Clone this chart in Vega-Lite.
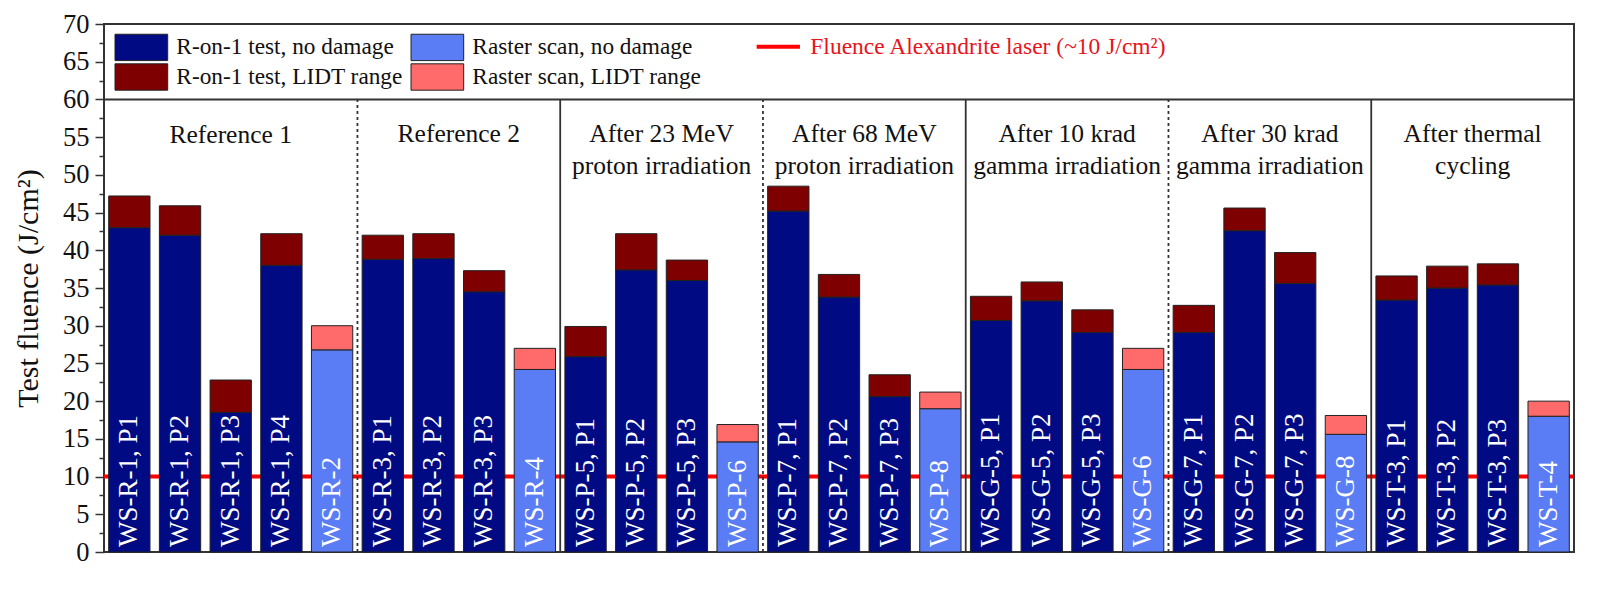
{
  "$schema": "https://vega.github.io/schema/vega-lite/v6.json",
  "width": 1470,
  "height": 528,
  "autosize": {"type": "none"},
  "padding": {"left": 104, "top": 24, "right": 26, "bottom": 40},
  "background": "white",
  "datasets": {
    "bars": [
      {"s": "WS-R-1, P1", "k": "R-on-1 test, no damage", "lo": 0, "hi": 43.0},
      {"s": "WS-R-1, P1", "k": "R-on-1 test, LIDT range", "lo": 43.0, "hi": 47.2},
      {"s": "WS-R-1, P2", "k": "R-on-1 test, no damage", "lo": 0, "hi": 42.0},
      {"s": "WS-R-1, P2", "k": "R-on-1 test, LIDT range", "lo": 42.0, "hi": 45.9},
      {"s": "WS-R-1, P3", "k": "R-on-1 test, no damage", "lo": 0, "hi": 18.5},
      {"s": "WS-R-1, P3", "k": "R-on-1 test, LIDT range", "lo": 18.5, "hi": 22.8},
      {"s": "WS-R-1, P4", "k": "R-on-1 test, no damage", "lo": 0, "hi": 38.0},
      {"s": "WS-R-1, P4", "k": "R-on-1 test, LIDT range", "lo": 38.0, "hi": 42.2},
      {"s": "WS-R-2", "k": "Raster scan, no damage", "lo": 0, "hi": 26.8},
      {"s": "WS-R-2", "k": "Raster scan, LIDT range", "lo": 26.8, "hi": 30.0},
      {"s": "WS-R-3, P1", "k": "R-on-1 test, no damage", "lo": 0, "hi": 38.8},
      {"s": "WS-R-3, P1", "k": "R-on-1 test, LIDT range", "lo": 38.8, "hi": 42.0},
      {"s": "WS-R-3, P2", "k": "R-on-1 test, no damage", "lo": 0, "hi": 38.9},
      {"s": "WS-R-3, P2", "k": "R-on-1 test, LIDT range", "lo": 38.9, "hi": 42.2},
      {"s": "WS-R-3, P3", "k": "R-on-1 test, no damage", "lo": 0, "hi": 34.5},
      {"s": "WS-R-3, P3", "k": "R-on-1 test, LIDT range", "lo": 34.5, "hi": 37.3},
      {"s": "WS-R-4", "k": "Raster scan, no damage", "lo": 0, "hi": 24.2},
      {"s": "WS-R-4", "k": "Raster scan, LIDT range", "lo": 24.2, "hi": 27.0},
      {"s": "WS-P-5, P1", "k": "R-on-1 test, no damage", "lo": 0, "hi": 25.9},
      {"s": "WS-P-5, P1", "k": "R-on-1 test, LIDT range", "lo": 25.9, "hi": 29.9},
      {"s": "WS-P-5, P2", "k": "R-on-1 test, no damage", "lo": 0, "hi": 37.4},
      {"s": "WS-P-5, P2", "k": "R-on-1 test, LIDT range", "lo": 37.4, "hi": 42.2},
      {"s": "WS-P-5, P3", "k": "R-on-1 test, no damage", "lo": 0, "hi": 36.0},
      {"s": "WS-P-5, P3", "k": "R-on-1 test, LIDT range", "lo": 36.0, "hi": 38.7},
      {"s": "WS-P-6", "k": "Raster scan, no damage", "lo": 0, "hi": 14.6},
      {"s": "WS-P-6", "k": "Raster scan, LIDT range", "lo": 14.6, "hi": 16.9},
      {"s": "WS-P-7, P1", "k": "R-on-1 test, no damage", "lo": 0, "hi": 45.2},
      {"s": "WS-P-7, P1", "k": "R-on-1 test, LIDT range", "lo": 45.2, "hi": 48.5},
      {"s": "WS-P-7, P2", "k": "R-on-1 test, no damage", "lo": 0, "hi": 33.8},
      {"s": "WS-P-7, P2", "k": "R-on-1 test, LIDT range", "lo": 33.8, "hi": 36.8},
      {"s": "WS-P-7, P3", "k": "R-on-1 test, no damage", "lo": 0, "hi": 20.6},
      {"s": "WS-P-7, P3", "k": "R-on-1 test, LIDT range", "lo": 20.6, "hi": 23.5},
      {"s": "WS-P-8", "k": "Raster scan, no damage", "lo": 0, "hi": 19.0},
      {"s": "WS-P-8", "k": "Raster scan, LIDT range", "lo": 19.0, "hi": 21.2},
      {"s": "WS-G-5, P1", "k": "R-on-1 test, no damage", "lo": 0, "hi": 30.7},
      {"s": "WS-G-5, P1", "k": "R-on-1 test, LIDT range", "lo": 30.7, "hi": 33.9},
      {"s": "WS-G-5, P2", "k": "R-on-1 test, no damage", "lo": 0, "hi": 33.3},
      {"s": "WS-G-5, P2", "k": "R-on-1 test, LIDT range", "lo": 33.3, "hi": 35.8},
      {"s": "WS-G-5, P3", "k": "R-on-1 test, no damage", "lo": 0, "hi": 29.1},
      {"s": "WS-G-5, P3", "k": "R-on-1 test, LIDT range", "lo": 29.1, "hi": 32.1},
      {"s": "WS-G-6", "k": "Raster scan, no damage", "lo": 0, "hi": 24.2},
      {"s": "WS-G-6", "k": "Raster scan, LIDT range", "lo": 24.2, "hi": 27.0},
      {"s": "WS-G-7, P1", "k": "R-on-1 test, no damage", "lo": 0, "hi": 29.1},
      {"s": "WS-G-7, P1", "k": "R-on-1 test, LIDT range", "lo": 29.1, "hi": 32.7},
      {"s": "WS-G-7, P2", "k": "R-on-1 test, no damage", "lo": 0, "hi": 42.6},
      {"s": "WS-G-7, P2", "k": "R-on-1 test, LIDT range", "lo": 42.6, "hi": 45.6},
      {"s": "WS-G-7, P3", "k": "R-on-1 test, no damage", "lo": 0, "hi": 35.6},
      {"s": "WS-G-7, P3", "k": "R-on-1 test, LIDT range", "lo": 35.6, "hi": 39.7},
      {"s": "WS-G-8", "k": "Raster scan, no damage", "lo": 0, "hi": 15.6},
      {"s": "WS-G-8", "k": "Raster scan, LIDT range", "lo": 15.6, "hi": 18.1},
      {"s": "WS-T-3, P1", "k": "R-on-1 test, no damage", "lo": 0, "hi": 33.4},
      {"s": "WS-T-3, P1", "k": "R-on-1 test, LIDT range", "lo": 33.4, "hi": 36.6},
      {"s": "WS-T-3, P2", "k": "R-on-1 test, no damage", "lo": 0, "hi": 35.0},
      {"s": "WS-T-3, P2", "k": "R-on-1 test, LIDT range", "lo": 35.0, "hi": 37.9},
      {"s": "WS-T-3, P3", "k": "R-on-1 test, no damage", "lo": 0, "hi": 35.4},
      {"s": "WS-T-3, P3", "k": "R-on-1 test, LIDT range", "lo": 35.4, "hi": 38.2},
      {"s": "WS-T-4", "k": "Raster scan, no damage", "lo": 0, "hi": 18.0},
      {"s": "WS-T-4", "k": "Raster scan, LIDT range", "lo": 18.0, "hi": 20.0}
    ],
    "groups": [
      {"g1": "Reference 1", "g2": "", "at": "WS-R-1, P3", "n": 5},
      {"g1": "Reference 2", "g2": "", "at": "WS-R-3, P3", "n": 4},
      {"g1": "After 23 MeV", "g2": "proton irradiation", "at": "WS-P-5, P3", "n": 4},
      {"g1": "After 68 MeV", "g2": "proton irradiation", "at": "WS-P-7, P3", "n": 4},
      {"g1": "After 10 krad", "g2": "gamma irradiation", "at": "WS-G-5, P3", "n": 4},
      {"g1": "After 30 krad", "g2": "gamma irradiation", "at": "WS-G-7, P3", "n": 4},
      {"g1": "After thermal", "g2": "cycling", "at": "WS-T-3, P3", "n": 4}
    ],
    "seps": [
      {"at": "WS-R-3, P1", "st": "dashed"},
      {"at": "WS-P-5, P1", "st": "solid"},
      {"at": "WS-P-7, P1", "st": "dashed"},
      {"at": "WS-G-5, P1", "st": "solid"},
      {"at": "WS-G-7, P1", "st": "dashed"},
      {"at": "WS-T-3, P1", "st": "solid"}
    ]
  },
  "resolve": {"axis": {"y": "independent"}},
  "layer": [
    {
      "data": {"values": [{}]},
      "mark": {"type": "rule", "strokeWidth": 4},
      "encoding": {
        "y": {
          "datum": 10, "type": "quantitative",
          "scale": {"domain": [0, 70], "nice": false},
          "axis": {
            "orient": "left",
            "title": "Test fluence (J/cm²)",
            "titleFont": "Liberation Serif", "titleFontSize": 30, "titleFontWeight": "normal", "titleColor": "#111",
            "titleX": -61, "titleY": 264,
            "values": [0, 5, 10, 15, 20, 25, 30, 35, 40, 45, 50, 55, 60, 65, 70],
            "labelOverlap": false, "labelFlush": false,
            "labelFont": "Liberation Serif", "labelFontSize": 26.5, "labelColor": "#111", "labelPadding": 6,
            "tickColor": "#333", "tickWidth": 1.5, "tickSize": 9,
            "domain": false, "grid": false
          }
        },
        "stroke": {
          "datum": "Fluence Alexandrite laser (~10 J/cm²)",
          "type": "nominal",
          "scale": {"range": ["#ff0000"]},
          "legend": {
            "orient": "none", "legendX": 650.3, "legendY": -1.3, "title": null, "padding": 0,
            "symbolType": "stroke", "symbolSize": 1875, "symbolStrokeWidth": 4, "symbolOffset": 0,
            "labelOffset": 8, "labelFont": "Liberation Serif", "labelFontSize": 23.5, "labelColor": "#e8141c", "labelLimit": 0
          }
        }
      }
    },
    {
      "data": {"name": "bars"},
      "mark": {"type": "bar", "stroke": "#222", "strokeWidth": 1},
      "encoding": {
        "x": {
          "field": "s", "type": "nominal", "sort": null, "axis": null,
          "scale": {
            "domain": ["WS-R-1, P1", "WS-R-1, P2", "WS-R-1, P3", "WS-R-1, P4", "WS-R-2",
                       "WS-R-3, P1", "WS-R-3, P2", "WS-R-3, P3", "WS-R-4",
                       "WS-P-5, P1", "WS-P-5, P2", "WS-P-5, P3", "WS-P-6",
                       "WS-P-7, P1", "WS-P-7, P2", "WS-P-7, P3", "WS-P-8",
                       "WS-G-5, P1", "WS-G-5, P2", "WS-G-5, P3", "WS-G-6",
                       "WS-G-7, P1", "WS-G-7, P2", "WS-G-7, P3", "WS-G-8",
                       "WS-T-3, P1", "WS-T-3, P2", "WS-T-3, P3", "WS-T-4"],
            "paddingInner": 0.185, "paddingOuter": 0.0925
          }
        },
        "y": {
          "field": "lo", "type": "quantitative",
          "axis": {
            "orient": "left", "title": null, "labels": false,
            "values": [2.5, 7.5, 12.5, 17.5, 22.5, 27.5, 32.5, 37.5, 42.5, 47.5, 52.5, 57.5, 62.5, 67.5],
            "tickColor": "#333", "tickWidth": 1.5, "tickSize": 5,
            "domain": false, "grid": false
          }
        },
        "y2": {"field": "hi"},
        "color": {
          "field": "k", "type": "nominal",
          "scale": {
            "domain": ["R-on-1 test, no damage", "Raster scan, no damage", "R-on-1 test, LIDT range", "Raster scan, LIDT range"],
            "range": ["#000a82", "#5a7cf5", "#7f0000", "#ff6b6b"]
          },
          "legend": {
            "orient": "none", "legendX": 11, "legendY": 9, "title": null, "padding": 0,
            "columns": 2, "direction": "horizontal",
            "symbolType": "M-2,-1H2V1H-2Z", "symbolSize": 694, "symbolOffset": 12.35,
            "symbolStrokeColor": "#222", "symbolStrokeWidth": 1, "symbolOpacity": 1,
            "labelOffset": 21, "labelFont": "Liberation Serif", "labelFontSize": 23.3, "labelColor": "#111", "labelLimit": 0,
            "rowPadding": -6, "columnPadding": 6
          }
        }
      }
    },
    {
      "data": {"name": "bars"},
      "transform": [{"filter": "datum.lo === 0"}],
      "mark": {"type": "text", "angle": 270, "align": "left", "baseline": "middle", "dx": 5, "fill": "white", "font": "Liberation Serif", "fontSize": 27},
      "encoding": {
        "x": {"field": "s", "type": "nominal"},
        "y": {"datum": 0, "type": "quantitative", "axis": null},
        "text": {"field": "s"}
      }
    },
    {
      "data": {"name": "seps"},
      "mark": {"type": "rule", "strokeWidth": 1.8, "color": "#333"},
      "encoding": {
        "x": {"field": "at", "type": "nominal", "bandPosition": -0.1135},
        "y": {"datum": 0, "type": "quantitative", "axis": null},
        "y2": {"datum": 60},
        "strokeDash": {
          "field": "st", "type": "nominal",
          "scale": {"domain": ["dashed", "solid"], "range": [[3, 3], [1, 0]]},
          "legend": null
        }
      }
    },
    {
      "data": {"values": [{}]},
      "mark": {"type": "rule", "strokeWidth": 2, "color": "#333"},
      "encoding": {
        "y": {"datum": 60, "type": "quantitative", "axis": null}
      }
    },
    {
      "data": {"name": "groups"},
      "transform": [{"filter": "datum.n === 5"}],
      "mark": {"type": "text", "baseline": "middle", "font": "Liberation Serif", "fontSize": 25.5, "color": "#111"},
      "encoding": {
        "x": {"field": "at", "type": "nominal", "bandPosition": 0.5},
        "y": {"datum": 55.3, "type": "quantitative", "axis": null},
        "text": {"field": "g1"}
      }
    },
    {
      "data": {"name": "groups"},
      "transform": [{"filter": "datum.n === 4"}],
      "mark": {"type": "text", "baseline": "middle", "font": "Liberation Serif", "fontSize": 25.5, "color": "#111"},
      "encoding": {
        "x": {"field": "at", "type": "nominal", "bandPosition": -0.1135},
        "y": {"datum": 55.4, "type": "quantitative", "axis": null},
        "text": {"field": "g1"}
      }
    },
    {
      "data": {"name": "groups"},
      "transform": [{"filter": "datum.g2 !== ''"}],
      "mark": {"type": "text", "baseline": "middle", "font": "Liberation Serif", "fontSize": 25.5, "color": "#111"},
      "encoding": {
        "x": {"field": "at", "type": "nominal", "bandPosition": -0.1135},
        "y": {"datum": 51.2, "type": "quantitative", "axis": null},
        "text": {"field": "g2"}
      }
    }
  ],
  "config": {
    "font": "Liberation Serif",
    "view": {"stroke": "#333", "strokeWidth": 2}
  }
}
